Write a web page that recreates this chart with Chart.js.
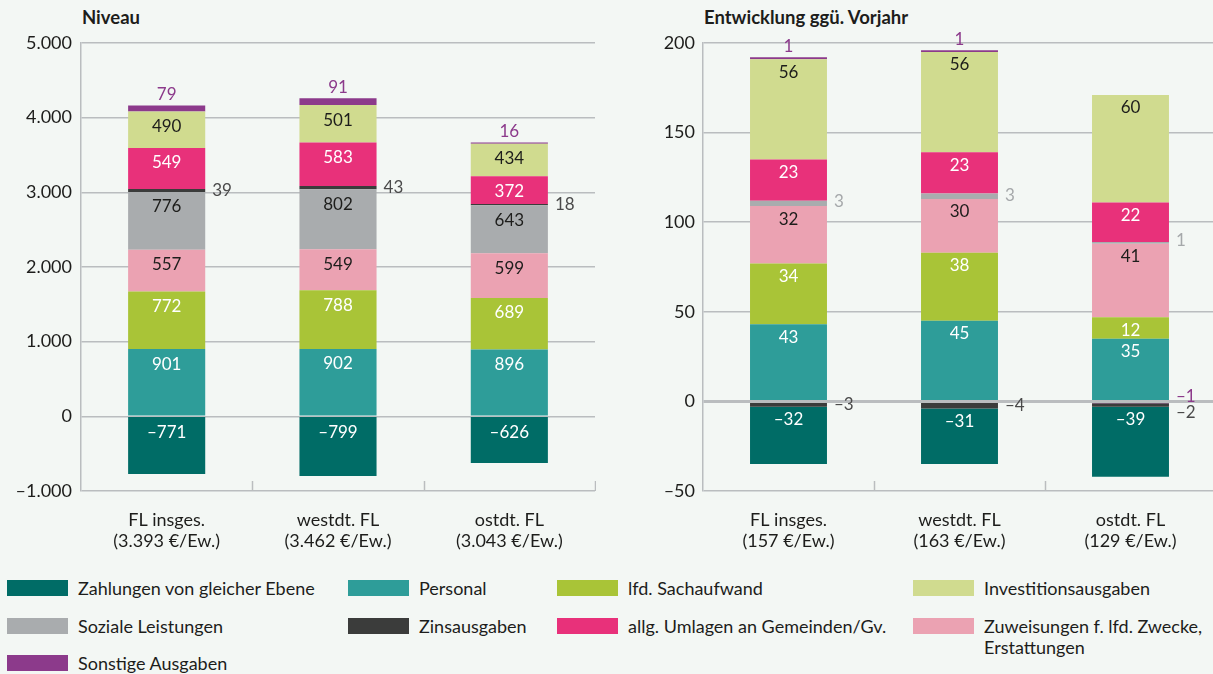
<!DOCTYPE html>
<html lang="de">
<head>
<meta charset="utf-8">
<script src="https://cdn.jsdelivr.net/npm/chart.js@4"></script>
<style>
  html, body { margin: 0; padding: 0; }
  body {
    width: 1213px; height: 674px; overflow: hidden; position: relative;
    background: #f3f7f4; font-family: Lato, sans-serif; color: #1d1d1b;
  }
  .title { position: absolute; top: 7px; font-weight: bold; font-size: 18.5px; line-height: 20px; }
  #levelChart { position: absolute; left: 0; top: 0; }
  #changeChart { position: absolute; left: 620px; top: 0; }
  #legend {
    position: absolute; left: 7px; top: 578px; display: grid;
    grid-template-columns: 341px 209px 356px 300px; grid-auto-rows: 37.5px;
    font-size: 18px; line-height: 21px;
  }
  .item { display: flex; align-items: flex-start; }
  .swatch { width: 61px; height: 16px; margin-top: 2px; margin-right: 10px; flex: none; }
</style>
</head>
<body>
<div class="title" style="left:82px">Niveau</div>
<div class="title" style="left:704px">Entwicklung ggü. Vorjahr</div>
<canvas id="levelChart" width="596" height="550"></canvas>
<canvas id="changeChart" width="597" height="550"></canvas>
<div id="legend"></div>

<script>
// series (legend order)
const seriesNames = [
  "Zahlungen von gleicher Ebene", "Personal", "lfd. Sachaufwand", "Investitionsausgaben",
  "Soziale Leistungen", "Zinsausgaben", "allg. Umlagen an Gemeinden/Gv.",
  "Zuweisungen f. lfd. Zwecke, Erstattungen", "Sonstige Ausgaben"
];
const seriesColors = [
  "#006c66", "#2e9d99", "#a9c437", "#d0db8f",
  "#a9acae", "#3b3c3b", "#e8317a", "#eba2b2", "#8c3a8b"
];

// Niveau (€/Ew.)
const levelCategories = [
  ["FL insges.", "(3.393 €/Ew.)"], ["westdt. FL", "(3.462 €/Ew.)"], ["ostdt. FL", "(3.043 €/Ew.)"]
];
const levelZahlungen = [-771, -799, -626];
const levelPersonal = [901, 902, 896];
const levelSachaufwand = [772, 788, 689];
const levelInvestitionen = [490, 501, 434];
const levelSoziales = [776, 802, 643];
const levelZinsen = [39, 43, 18];
const levelUmlagen = [549, 583, 372];
const levelZuweisungen = [557, 549, 599];
const levelSonstige = [79, 91, 16];
const levelTicks = [-1000, 0, 1000, 2000, 3000, 4000, 5000];

// Entwicklung ggü. Vorjahr (€/Ew.)
const changeCategories = [
  ["FL insges.", "(157 €/Ew.)"], ["westdt. FL", "(163 €/Ew.)"], ["ostdt. FL", "(129 €/Ew.)"]
];
const changeZahlungen = [-32, -31, -39];
const changePersonal = [43, 45, 35];
const changeSachaufwand = [34, 38, 12];
const changeInvestitionen = [56, 56, 60];
const changeSoziales = [3, 3, 1];
const changeZinsen = [-3, -4, -2];
const changeUmlagen = [23, 23, 22];
const changeZuweisungen = [32, 30, 41];
const changeSonstige = [1, 1, -1];
const changeTicks = [-50, 0, 50, 100, 150, 200];

const gridColor = "#babdbf";
const textColor = "#1d1d1b";
const font = { family: "Lato", size: 18, lineHeight: 1.17 };

function fmt(v) {
  const s = String(Math.abs(v)).replace(/\B(?=(\d{3})+(?!\d))/g, ".");
  return (v < 0 ? "\u2013" : "") + s;
}

// inside labels: white on dark fills, black on light fills
const darkText = [0, 1, 2, 6];

function series(idx, values, place, extra) {
  return Object.assign({
    label: seriesNames[idx],
    data: values,
    backgroundColor: seriesColors[idx],
    borderWidth: 0,
    place: place,
    textColor: darkText.includes(idx) ? "#ffffff" : textColor
  }, extra || {});
}

const barLabels = {
  id: "barLabels",
  afterDatasetsDraw(chart, args, opts) {
    const ctx = chart.ctx;
    ctx.save();
    ctx.font = "17px Lato";
    ctx.textBaseline = "middle";
    chart.data.datasets.forEach((ds, i) => {
      chart.getDatasetMeta(i).data.forEach((bar, j) => {
        const v = ds.data[j];
        if (v === null || v === undefined) return;
        const top = Math.min(bar.y, bar.base);
        const bottom = Math.max(bar.y, bar.base);
        let mode = ds.place;
        let dy = ds.labelDy ? ds.labelDy[j] : 0;
        if (mode === "top" && v < 0) { mode = "right"; dy = -7; }
        if (mode === "in") {
          ctx.fillStyle = ds.textColor;
          ctx.textAlign = "center";
          ctx.fillText(fmt(v), bar.x, top + opts.inset);
        } else if (mode === "right") {
          ctx.fillStyle = ds.outColor;
          ctx.textAlign = "left";
          ctx.fillText(fmt(v), bar.x + bar.width / 2 + 7, (top + bottom) / 2 + dy);
        } else if (mode === "top") {
          ctx.fillStyle = ds.outColor;
          ctx.textAlign = "center";
          ctx.fillText(fmt(v), bar.x, top - 11);
        }
      });
    });
    ctx.restore();
  }
};

const categoryTicks = {
  id: "categoryTicks",
  afterDraw(chart) {
    const x = chart.scales.x, a = chart.chartArea, ctx = chart.ctx;
    ctx.save();
    ctx.strokeStyle = gridColor;
    ctx.lineWidth = 1.5;
    for (let i = 1; i <= chart.data.labels.length; i++) {
      const px = Math.round(x.getPixelForValue(i - 0.5)) + 0.5;
      ctx.beginPath();
      ctx.moveTo(px, a.bottom - 10);
      ctx.lineTo(px, a.bottom);
      ctx.stroke();
    }
    ctx.restore();
  }
};

function makeChart(id, labels, datasets, ticks, axisWidth, tickPad, inset, zeroWidth) {
  return new Chart(document.getElementById(id), {
    type: "bar",
    data: { labels: labels, datasets: datasets },
    plugins: [barLabels, categoryTicks],
    options: {
      responsive: false,
      animation: false,
      categoryPercentage: 1,
      barPercentage: 0.45,
      layout: { padding: { top: 43, right: 1, left: 0, bottom: 0 } },
      plugins: {
        legend: { display: false },
        tooltip: { enabled: false },
        barLabels: { inset: inset }
      },
      scales: {
        x: {
          stacked: true,
          grid: { display: false },
          border: { display: false },
          ticks: { font: font, color: textColor, padding: 11, maxRotation: 0, autoSkip: false },
          afterFit(s) { s.height = 59; }
        },
        y: {
          stacked: true,
          min: ticks[0],
          max: ticks[ticks.length - 1],
          afterBuildTicks(s) { s.ticks = ticks.map(v => ({ value: v })); },
          ticks: { font: font, color: textColor, padding: tickPad, callback: v => fmt(v) },
          grid: {
            color: gridColor,
            drawTicks: false,
            lineWidth: c => (c.tick && c.tick.value === 0 ? zeroWidth : 1.5)
          },
          border: { color: gridColor, width: 1.5 },
          afterFit(s) { s.width = axisWidth; }
        }
      }
    }
  });
}

const zinsColor = "#4a4a4a";
const sonstColor = "#8c3a8b";
const sozColor = "#a5a8aa";

makeChart("levelChart", levelCategories, [
  series(0, levelZahlungen, "in"),
  series(1, levelPersonal, "in"),
  series(2, levelSachaufwand, "in"),
  series(7, levelZuweisungen, "in"),
  series(4, levelSoziales, "in"),
  series(5, levelZinsen, "right", { outColor: zinsColor }),
  series(6, levelUmlagen, "in"),
  series(3, levelInvestitionen, "in"),
  series(8, levelSonstige, "top", { outColor: sonstColor })
], levelTicks, 81, 9, 15, 1.5);

makeChart("changeChart", changeCategories, [
  series(1, changePersonal, "in"),
  series(2, changeSachaufwand, "in"),
  series(7, changeZuweisungen, "in"),
  series(4, changeSoziales, "right", { outColor: sozColor, labelDy: [-2, -1, -2] }),
  series(6, changeUmlagen, "in"),
  series(3, changeInvestitionen, "in"),
  series(8, changeSonstige, "top", { outColor: sonstColor }),
  series(5, changeZinsen, "right", { outColor: zinsColor, labelDy: [0, 0, 8] }),
  series(0, changeZahlungen, "in")
], changeTicks, 83, 8, 13, 3);

// legend
const legend = document.getElementById("legend");
seriesNames.forEach((name, i) => {
  const item = document.createElement("div");
  item.className = "item";
  const sw = document.createElement("span");
  sw.className = "swatch";
  sw.style.background = seriesColors[i];
  const tx = document.createElement("span");
  tx.textContent = name;
  item.appendChild(sw);
  item.appendChild(tx);
  legend.appendChild(item);
});
</script>
</body>
</html>
